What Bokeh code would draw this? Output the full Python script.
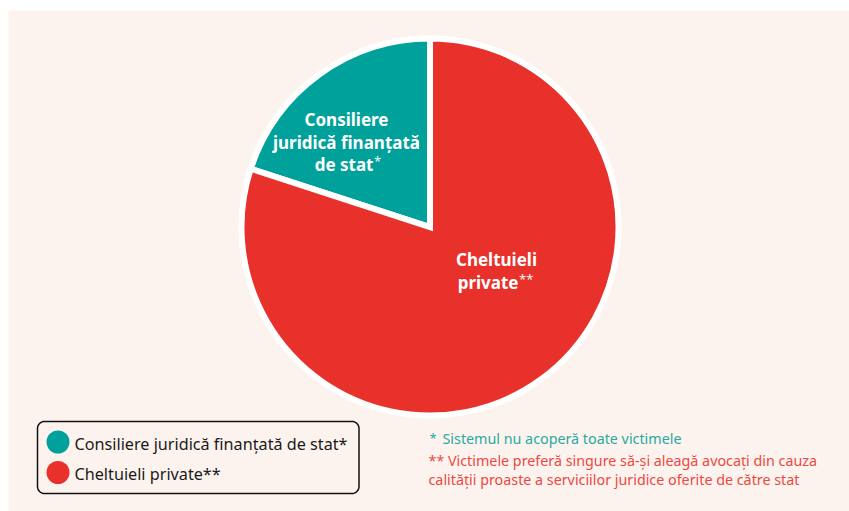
import numpy as np
from bokeh.plotting import figure
from bokeh.models import Range1d
from bokeh.core.properties import value
from bokeh.embed import file_html
from bokeh.resources import INLINE

# ---------------- data ----------------
categories = ["Consiliere juridică finanțată de stat*", "Cheltuieli private**"]
shares = [20, 80]
colors = ["#00a19a", "#e8312a"]
slice_lines = [["Consiliere", "juridică finanțată", "de stat"], ["Cheltuieli", "private"]]
slice_marks = ["*", "**"]
footnote_1 = ["*", "Sistemul nu acoperă toate victimele"]
footnote_2 = ["** Victimele preferă singure să-și aleagă avocați din cauza",
              "calității proaste a serviciilor juridice oferite de către stat"]
footnote_colors = ["#26aaa1", "#ec4842"]

# ---------------- layout helpers (screen px -> data) ----------------
W, H = 849, 511
LEFT, TOP = 8, 10
FW, FH = W - LEFT, H - TOP


def X(sx):
    return sx - LEFT


def Y(sy):
    return H - sy


FONT = value("Noto Sans")
PEACH = "#fdf3ee"

p = figure(width=W, height=H, x_range=Range1d(0, FW), y_range=Range1d(0, FH),
           min_border_left=LEFT, min_border_top=TOP, min_border_right=0, min_border_bottom=0,
           toolbar_location=None, output_backend="svg",
           x_axis_location=None, y_axis_location=None,
           background_fill_color=PEACH, border_fill_color="white", outline_line_color=None)
p.grid.visible = False

# ---------------- pie ----------------
cx, cy = X(429.5), Y(226.5)
fr = np.array(shares, dtype=float) / sum(shares)
ends = np.pi / 2 + np.cumsum(fr) * 2 * np.pi
starts = np.concatenate([[np.pi / 2], ends[:-1]])
p.wedge(x=cx, y=cy, radius=188.5, radius_units="screen",
        start_angle=starts, end_angle=ends,
        fill_color=colors, line_color="white", line_width=6, line_join="miter")

# slice labels: (center x, line y centres, right edge of the last line)
lab_pos = [(346, [118.5, 141.5, 163.5], 373), (496, [258.5, 281.5], 518)]
for i, (lx, ys, rx) in enumerate(lab_pos):
    lines = slice_lines[i]
    for j, (txt, sy) in enumerate(zip(lines, ys)):
        last = j == len(lines) - 1
        if last:
            p.text(x=[X(rx)], y=[Y(sy)], text=[txt],
                   text_align="right", text_baseline="middle",
                   text_font=FONT, text_font_style="bold", text_font_size="17px", text_color="white")
            p.text(x=[X(rx + 0.5)], y=[Y(sy - 3)], text=[slice_marks[i]],
                   text_align="left", text_baseline="middle",
                   text_font=FONT, text_font_size="13px", text_color="#f2f2f2")
        else:
            p.text(x=[X(lx)], y=[Y(sy)], text=[txt],
                   text_align="center", text_baseline="middle",
                   text_font=FONT, text_font_style="bold", text_font_size="17px", text_color="white")

# ---------------- legend box ----------------
bx0, bx1, by0, by1, rr = 37, 358.5, 421, 493, 7
corners = [(bx1 - rr, by0 + rr, -90, 0), (bx1 - rr, by1 - rr, 0, 90),
           (bx0 + rr, by1 - rr, 90, 180), (bx0 + rr, by0 + rr, 180, 270)]
px, py = [], []
for (ccx, ccy, a0, a1) in corners:
    t = np.radians(np.linspace(a0, a1, 12))
    px += list(X(ccx + rr * np.cos(t)))
    py += list(Y(ccy + rr * np.sin(t)))
p.patch(px, py, fill_color=PEACH, line_color="#111111", line_width=1.5)

leg_y = [441.5, 472]
p.scatter(x=[X(57.5)] * 2, y=[Y(v) for v in leg_y], size=23, marker="circle",
          fill_color=colors, line_color=None)
p.text(x=[X(74)] * 2, y=[Y(v + 1.5) for v in leg_y], text=categories,
       text_align="left", text_baseline="middle",
       text_font=FONT, text_font_size="16.2px", text_color="#1a1a1a")

# ---------------- footnotes ----------------
p.text(x=[X(429)], y=[Y(437)], text=[footnote_1[0]], text_align="left", text_baseline="middle",
       text_font=FONT, text_font_size="13px", text_color=footnote_colors[0])
p.text(x=[X(442)], y=[Y(438)], text=[footnote_1[1]], text_align="left", text_baseline="middle",
       text_font=FONT, text_font_size="14.3px", text_color=footnote_colors[0])
p.text(x=[X(428)] * 2, y=[Y(460), Y(479)], text=footnote_2, text_align="left", text_baseline="middle",
       text_font=FONT, text_font_size="14.3px", text_color=footnote_colors[1])

open("out.html", "w").write(file_html(p, INLINE))
